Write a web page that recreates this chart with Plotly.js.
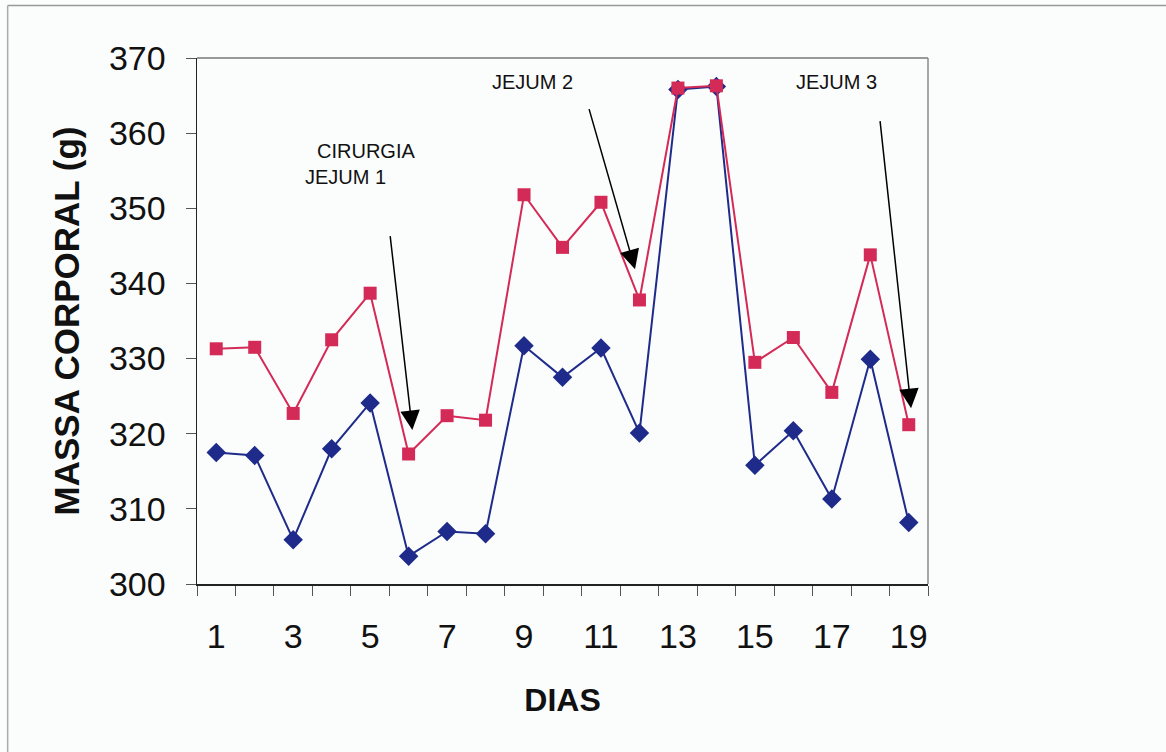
<!DOCTYPE html>
<html>
<head>
<meta charset="utf-8">
<script src="https://cdn.plot.ly/plotly-3.0.1.min.js"></script>
<style>
html,body{margin:0;padding:0;background:#fbfdfc;}
#chart{width:1166px;height:752px;}
</style>
</head>
<body>
<div id="chart"></div>
<script>
const dias = [1,2,3,4,5,6,7,8,9,10,11,12,13,14,15,16,17,18,19];
const serieAzul = [317.5,317.1,305.9,318.0,324.1,303.7,307.0,306.7,331.7,327.5,331.4,320.1,365.8,366.2,315.8,320.4,311.3,329.9,308.2];
const serieVermelha = [331.3,331.5,322.7,332.5,338.7,317.3,322.4,321.8,351.8,344.8,350.8,337.8,366.0,366.3,329.5,332.8,325.5,343.8,321.2];
const rotulosX = [1,3,5,7,9,11,13,15,17,19];
const rotulosY = [300,310,320,330,340,350,360,370];

const traces = [
  {x: dias, y: serieAzul, type:'scatter', mode:'lines+markers',
   line:{color:'#1f2b8a', width:2},
   marker:{symbol:'diamond', size:15, color:'#1f2b8a'}, showlegend:false},
  {x: dias, y: serieVermelha, type:'scatter', mode:'lines+markers',
   line:{color:'#d42a57', width:2},
   marker:{symbol:'square', size:13, color:'#d42a57'}, showlegend:false}
];

const arrowStyle = {showarrow:true, arrowhead:2, arrowsize:2.6, arrowwidth:1.5, arrowcolor:'#000', standoff:0, startstandoff:0, text:'', axref:'x', ayref:'y'};
const txtFont = {family:'Liberation Sans, Arial, sans-serif', size:20, color:'#111'};

const layout = {
  width:1166, height:752,
  paper_bgcolor:'#fbfdfc', plot_bgcolor:'#fbfdfc',
  margin:{l:197, r:238, t:58, b:168},
  font:{family:'Liberation Sans, Arial, sans-serif', color:'#111'},
  xaxis:{
    range:[0.5,19.5], tickmode:'array', tickvals: rotulosX, ticktext: rotulosX.map(String),
    ticks:'', showgrid:false, zeroline:false,
    showline:true, linecolor:'#222', linewidth:1.5,
    tickfont:{size:34}, ticklabelstandoff:22,
    minor:{tickmode:'linear', tick0:0.5, dtick:1, ticks:'outside', ticklen:10, tickwidth:1, tickcolor:'#555', showgrid:false},
    title:{text:'<b>DIAS</b>', font:{size:32}, standoff:34}
  },
  yaxis:{
    range:[300,370], tickmode:'array', tickvals: rotulosY,
    ticks:'outside', ticklen:10, tickwidth:1, tickcolor:'#555',
    showgrid:false, zeroline:false,
    showline:true, linecolor:'#222', linewidth:1.5,
    tickfont:{size:34}, ticklabelstandoff:13,
    title:{text:'<b>MASSA CORPORAL (g)</b>', font:{size:35}, standoff:18}
  },
  shapes:[
    {type:'line', xref:'paper', yref:'paper', x0:0, x1:1, y0:1, y1:1, line:{color:'#777', width:1.5}},
    {type:'line', xref:'paper', yref:'paper', x0:1, x1:1, y0:0, y1:1, line:{color:'#888', width:1.5}},
    {type:'line', xref:'paper', yref:'paper', x0:-0.259, x1:1.33, y0:1.10, y1:1.10, line:{color:'#999', width:1.5}},
    {type:'line', xref:'paper', yref:'paper', x0:-0.259, x1:-0.259, y0:1.10, y1:-0.35, line:{color:'#aaa', width:1.5}}
  ],
  annotations:[
    Object.assign({x:6.097, y:320.5, ax:5.517, ay:346.5}, arrowStyle),
    Object.assign({x:11.885, y:341.9, ax:10.68, ay:363.4}, arrowStyle),
    Object.assign({x:19.06, y:323.4, ax:18.25, ay:361.8}, arrowStyle),
    {x:4.89, y:357.6, text:'CIRURGIA', showarrow:false, font:txtFont},
    {x:4.37, y:354.2, text:'JEJUM 1', showarrow:false, font:txtFont},
    {x:9.23, y:366.85, text:'JEJUM 2', showarrow:false, font:txtFont},
    {x:17.11, y:366.85, text:'JEJUM 3', showarrow:false, font:txtFont}
  ]
};

Plotly.newPlot('chart', traces, layout, {displayModeBar:false, staticPlot:true});
</script>
</body>
</html>
